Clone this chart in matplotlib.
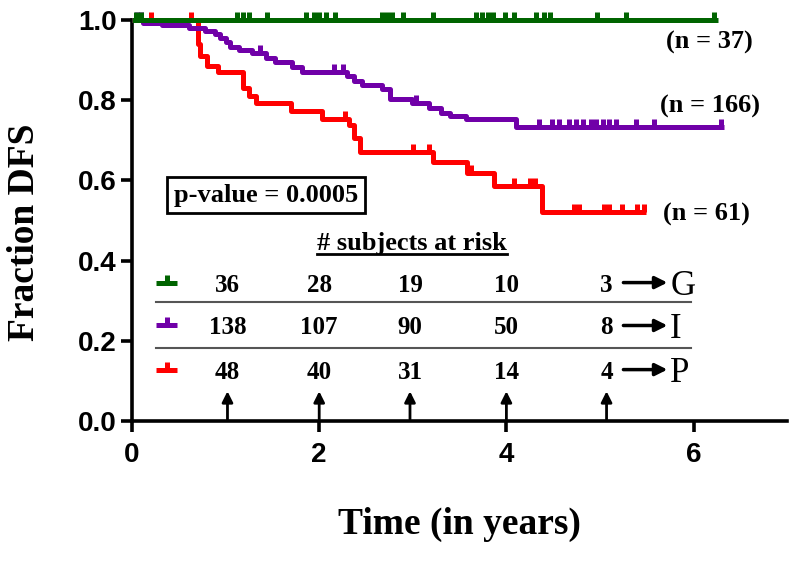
import numpy as np
import matplotlib.pyplot as plt

# Kaplan-Meier curves (step "post"), last time = end of follow-up
g_time = [0.0, 6.26]
g_surv = [1.0, 1.0]
g_cens = [0.04, 0.1, 1.12, 1.19, 1.25, 1.44, 1.86, 1.94, 2.0, 2.07, 2.17,
          2.67, 2.72, 2.78, 2.89, 3.22, 3.68, 3.74, 3.8, 3.86, 3.99, 4.08,
          4.32, 4.4, 4.47, 4.97, 5.28, 6.22]

i_time = [0.0, 0.12, 0.32, 0.61, 0.78, 0.89, 0.94, 1.0, 1.05, 1.14, 1.28,
          1.43, 1.53, 1.71, 1.82, 2.30, 2.37, 2.46, 2.67, 2.76, 2.99, 3.17,
          3.3, 3.4, 3.57, 4.1, 6.32]
i_surv = [1.0, 0.993, 0.987, 0.98, 0.973, 0.965, 0.955, 0.945, 0.933, 0.925,
          0.918, 0.906, 0.894, 0.882, 0.871, 0.859, 0.847, 0.839, 0.827, 0.804,
          0.792, 0.78, 0.768, 0.761, 0.754, 0.732, 0.732]
i_cens = [0.05, 0.1, 1.37, 2.16, 2.25, 3.03, 4.35, 4.49, 4.56, 4.67, 4.74,
          4.82, 4.9, 4.96, 5.03, 5.1, 5.17, 5.38, 5.58, 6.29]

p_time = [0.0, 0.70, 0.73, 0.80, 0.92, 1.19, 1.25, 1.32, 1.70, 2.03, 2.32,
          2.37, 2.44, 3.22, 3.58, 3.87, 4.38, 5.49]
p_surv = [1.0, 0.94, 0.91, 0.886, 0.871, 0.83, 0.81, 0.792, 0.773, 0.753,
          0.737, 0.706, 0.671, 0.645, 0.619, 0.586, 0.52, 0.52]
p_cens = [0.2, 0.63, 2.28, 3.0, 3.17, 3.62, 4.08, 4.25, 4.31, 4.72, 4.78,
          5.04, 5.1, 5.24, 5.4, 5.47]

n_labels = ['(n = 37)', '(n = 166)', '(n = 61)']
p_text = 'p-value = 0.0005'

# numbers at risk
risk_times = [1.02, 2.0, 2.97, 4.0, 5.07]
risk_g = [36, 28, 19, 10, 3]
risk_i = [138, 107, 90, 50, 8]
risk_p = [48, 40, 31, 14, 4]
group_names = ['G', 'I', 'P']

green = '#006400'
purple = '#7000a8'
red = '#ff0000'

serif = 'Liberation Serif'
sans = 'Liberation Sans'

fig = plt.figure(figsize=(8, 5.65), dpi=100)
ax = fig.add_axes([0.165, 0.255, 0.819, 0.7097])

def surv_at(times, surv, c):
    idx = np.searchsorted(times, c, side='right') - 1
    return np.array(surv)[idx]

curves = [(g_time, g_surv, g_cens, green),
          (i_time, i_surv, i_cens, purple),
          (p_time, p_surv, p_cens, red)]
for t, s, c, col in curves[::-1]:
    ax.step(t, s, where='post', color=col, lw=3.6, clip_on=False,
            solid_capstyle='butt', zorder=3)
    ax.plot(c, surv_at(t, s, c), ls='none', marker=2, ms=6, mew=3.6,
            color=col, clip_on=False, zorder=3)

ax.set_xlim(0, 7)
ax.set_ylim(0, 1.0)
ax.set_xticks([0, 2, 4, 6])
ax.set_yticks(np.arange(0, 1.01, 0.2))
ax.set_yticklabels([f'{v:.1f}' for v in np.arange(0, 1.01, 0.2)])
for side in ['top', 'right']:
    ax.spines[side].set_visible(False)
for side in ['left', 'bottom']:
    ax.spines[side].set_linewidth(2.6)
ax.tick_params(direction='out', length=8, width=2.6)
ax.tick_params(axis='x', pad=7)
ax.tick_params(axis='y', pad=3)
for lab in ax.get_xticklabels() + ax.get_yticklabels():
    lab.set_fontfamily(sans)
    lab.set_fontweight('bold')
    lab.set_fontsize(20)

ax.set_xlabel('Time (in years)', family=serif, weight='bold', fontsize=27,
              labelpad=28)
ax.set_ylabel('Fraction DFS', family=serif, weight='bold', fontsize=27)
ax.yaxis.set_label_coords(-0.137, 0.47)

# n labels near curve ends
n_pos = [(6.17, 0.945), (6.18, 0.784), (6.14, 0.515)]
for txt, (x, y) in zip(n_labels, n_pos):
    ax.text(x, y, txt, family=serif, weight='bold', fontsize=19,
            ha='center', va='center')

# p-value box
ax.text(1.43, 0.563, p_text, family=serif, weight='bold', fontsize=19,
        ha='center', va='center',
        bbox=dict(boxstyle='square,pad=0.25', fc='white', ec='black', lw=2))

# risk table
hdr = ax.text(2.99, 0.443, '# subjects at risk', family=serif, weight='bold',
              fontsize=19, ha='center', va='center')
row_y = [0.345, 0.238, 0.128]
rows = [risk_g, risk_i, risk_p]
cols = [green, purple, red]
for y, vals, col, name in zip(row_y, rows, cols, group_names):
    ax.plot([0.26, 0.48], [y, y], color=col, lw=3.6, solid_capstyle='butt')
    ax.plot([0.37], [y], marker=2, ms=6, mew=3.6, color=col)
    for x, v in zip(risk_times, vals):
        ax.text(x, y, str(v), family=serif, weight='bold', fontsize=18,
                ha='center', va='center_baseline')
    ax.annotate('', xy=(5.72, y), xytext=(5.25, y),
                arrowprops=dict(arrowstyle='-|>', lw=2.5, color='black',
                                mutation_scale=18, shrinkA=0, shrinkB=0))
    ax.text(5.75, y, name, family=serif, fontsize=25, ha='left',
            va='center_baseline')

for y in [0.297, 0.182]:
    ax.plot([0.26, 5.97], [y, y], color='#555555', lw=1.5)

for x in risk_times:
    ax.annotate('', xy=(x, 0.074), xytext=(x, 0.004),
                arrowprops=dict(arrowstyle='-|>', lw=2, color='black',
                                mutation_scale=16, shrinkA=0, shrinkB=0))

fig.canvas.draw()
bb = hdr.get_window_extent().transformed(ax.transData.inverted())
ax.plot([bb.x0, bb.x1], [bb.y0 + 0.002] * 2, color='black', lw=2)

fig.savefig('out.png', dpi=100)
